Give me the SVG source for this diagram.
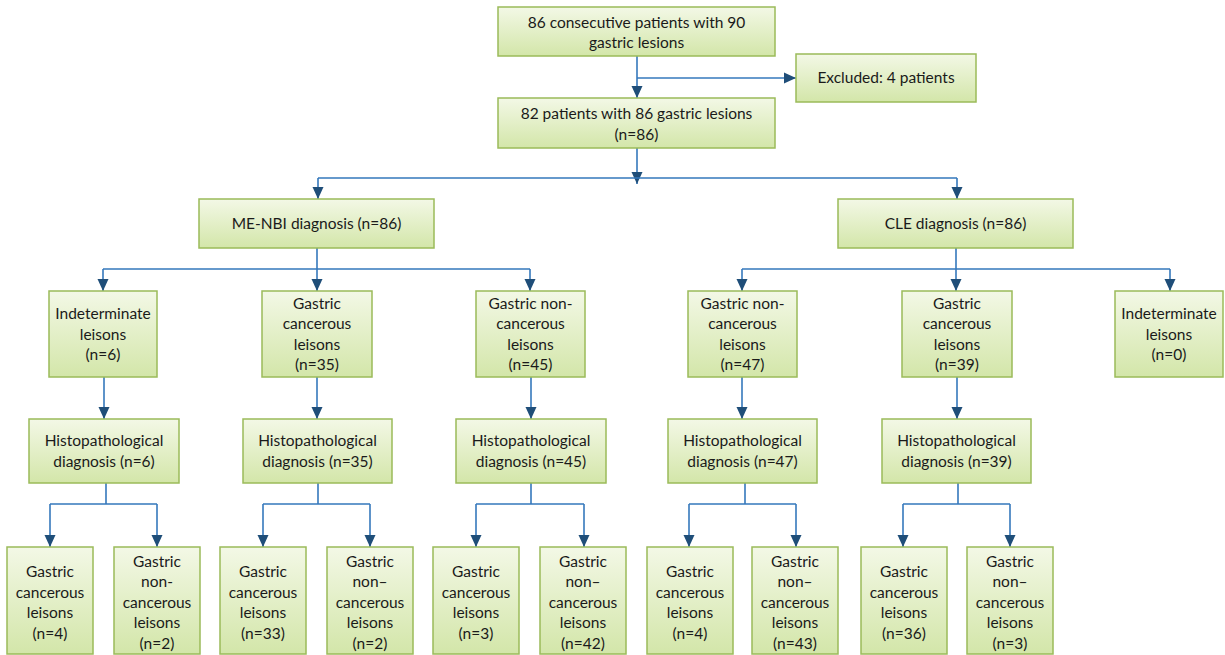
<svg xmlns="http://www.w3.org/2000/svg" width="1225" height="655" viewBox="0 0 1225 655">
<defs>
<linearGradient id="g" x1="0" y1="0" x2="0" y2="1">
<stop offset="0" stop-color="#F3F8E6"/>
<stop offset="1" stop-color="#D3E6A9"/>
</linearGradient>
<marker id="ah" markerUnits="userSpaceOnUse" markerWidth="12" markerHeight="12" viewBox="0 0 12 12" refX="12" refY="6" orient="auto">
<path d="M0,0.5 L12,6 L0,11.5 Z" fill="#1F4E79"/>
</marker>
</defs>
<style>
.b{fill:url(#g);stroke:#9BBB59;stroke-width:1.5}
.t{font-family:Lato,"Open Sans","Liberation Sans",sans-serif;font-size:15.5px;fill:#1A1A1A;text-anchor:middle}
.c{fill:none;stroke:#3578BC;stroke-width:1.6}
.a{marker-end:url(#ah)}
</style>
<rect width="1225" height="655" fill="#FFFFFF"/>
<g id="connectors">
<path class="c a" d="M637,56 V98"/>
<path class="c a" d="M637,78 H796"/>
<path class="c a" d="M637,148 V184"/>
<path class="c a" d="M318,178 H957 M318,178 V199"/>
<path class="c a" d="M957,178 V199"/>
<path class="c" d="M317,248 V269 M103,269 H530"/>
<path class="c a" d="M103,269 V291"/>
<path class="c a" d="M317,269 V291"/>
<path class="c a" d="M530,269 V291"/>
<path class="c" d="M956,248 V269 M742,269 H1170"/>
<path class="c a" d="M742,269 V291"/>
<path class="c a" d="M956,269 V291"/>
<path class="c a" d="M1170,269 V291"/>
<path class="c a" d="M104,377 V419"/>
<path class="c a" d="M317,377 V419"/>
<path class="c a" d="M531,377 V419"/>
<path class="c a" d="M742,377 V419"/>
<path class="c a" d="M957,377 V419"/>
<path class="c" d="M106,483 V504 M50,504 H157"/>
<path class="c a" d="M50,504 V547"/>
<path class="c a" d="M157,504 V547"/>
<path class="c" d="M318,483 V504 M263,504 H370"/>
<path class="c a" d="M263,504 V547"/>
<path class="c a" d="M370,504 V547"/>
<path class="c" d="M531,483 V504 M476,504 H584"/>
<path class="c a" d="M476,504 V547"/>
<path class="c a" d="M584,504 V547"/>
<path class="c" d="M745,483 V504 M689,504 H796"/>
<path class="c a" d="M689,504 V547"/>
<path class="c a" d="M796,504 V547"/>
<path class="c" d="M958,483 V504 M903,504 H1010"/>
<path class="c a" d="M903,504 V547"/>
<path class="c a" d="M1010,504 V547"/>
</g>
<g id="n_top"><rect class="b" x="498" y="7" width="277" height="49"/><text class="t" x="636.5" y="28">86 consecutive patients with 90</text><text class="t" x="636.5" y="48">gastric lesions</text></g>
<g id="n_excl"><rect class="b" x="796" y="54" width="180" height="48"/><text class="t" x="886" y="83">Excluded: 4 patients</text></g>
<g id="n_82"><rect class="b" x="498" y="98" width="277" height="50"/><text class="t" x="636.5" y="119">82 patients with 86 gastric lesions</text><text class="t" x="636.5" y="140">(n=86)</text></g>
<g id="n_menbi"><rect class="b" x="199" y="199" width="235" height="49"/><text class="t" x="316.5" y="229">ME-NBI diagnosis (n=86)</text></g>
<g id="n_cle"><rect class="b" x="838" y="199" width="235" height="49"/><text class="t" x="955.5" y="229">CLE diagnosis (n=86)</text></g>
<g id="n_m_ind"><rect class="b" x="49" y="291" width="108" height="86"/><text class="t" x="103" y="319">Indeterminate</text><text class="t" x="103" y="340">leisons</text><text class="t" x="103" y="360">(n=6)</text></g>
<g id="n_m_can"><rect class="b" x="262" y="291" width="110" height="86"/><text class="t" x="317" y="309">Gastric</text><text class="t" x="317" y="329">cancerous</text><text class="t" x="317" y="350">leisons</text><text class="t" x="317" y="370">(n=35)</text></g>
<g id="n_m_non"><rect class="b" x="476" y="291" width="109" height="86"/><text class="t" x="530.5" y="309">Gastric non-</text><text class="t" x="530.5" y="329">cancerous</text><text class="t" x="530.5" y="350">leisons</text><text class="t" x="530.5" y="370">(n=45)</text></g>
<g id="n_c_non"><rect class="b" x="688" y="291" width="109" height="86"/><text class="t" x="742.5" y="309">Gastric non-</text><text class="t" x="742.5" y="329">cancerous</text><text class="t" x="742.5" y="350">leisons</text><text class="t" x="742.5" y="370">(n=47)</text></g>
<g id="n_c_can"><rect class="b" x="902" y="291" width="110" height="86"/><text class="t" x="957" y="309">Gastric</text><text class="t" x="957" y="329">cancerous</text><text class="t" x="957" y="350">leisons</text><text class="t" x="957" y="370">(n=39)</text></g>
<g id="n_c_ind"><rect class="b" x="1115" y="291" width="108" height="86"/><text class="t" x="1169" y="319">Indeterminate</text><text class="t" x="1169" y="340">leisons</text><text class="t" x="1169" y="360">(n=0)</text></g>
<g id="n_h6"><rect class="b" x="29" y="419" width="150" height="64"/><text class="t" x="104" y="446">Histopathological</text><text class="t" x="104" y="467">diagnosis (n=6)</text></g>
<g id="n_h35"><rect class="b" x="243" y="419" width="149" height="64"/><text class="t" x="317.5" y="446">Histopathological</text><text class="t" x="317.5" y="467">diagnosis (n=35)</text></g>
<g id="n_h45"><rect class="b" x="456" y="419" width="150" height="64"/><text class="t" x="531" y="446">Histopathological</text><text class="t" x="531" y="467">diagnosis (n=45)</text></g>
<g id="n_h47"><rect class="b" x="668" y="419" width="149" height="64"/><text class="t" x="742.5" y="446">Histopathological</text><text class="t" x="742.5" y="467">diagnosis (n=47)</text></g>
<g id="n_h39"><rect class="b" x="882" y="419" width="149" height="64"/><text class="t" x="956.5" y="446">Histopathological</text><text class="t" x="956.5" y="467">diagnosis (n=39)</text></g>
<g id="n_b1"><rect class="b" x="7" y="547" width="86" height="107"/><text class="t" x="50" y="577">Gastric</text><text class="t" x="50" y="598">cancerous</text><text class="t" x="50" y="618">leisons</text><text class="t" x="50" y="639">(n=4)</text></g>
<g id="n_b2"><rect class="b" x="114" y="547" width="86" height="107"/><text class="t" x="157" y="567">Gastric</text><text class="t" x="157" y="587">non-</text><text class="t" x="157" y="608">cancerous</text><text class="t" x="157" y="628">leisons</text><text class="t" x="157" y="649">(n=2)</text></g>
<g id="n_b3"><rect class="b" x="220" y="547" width="86" height="107"/><text class="t" x="263" y="577">Gastric</text><text class="t" x="263" y="598">cancerous</text><text class="t" x="263" y="618">leisons</text><text class="t" x="263" y="639">(n=33)</text></g>
<g id="n_b4"><rect class="b" x="327" y="547" width="86" height="107"/><text class="t" x="370" y="567">Gastric</text><text class="t" x="370" y="587">non–</text><text class="t" x="370" y="608">cancerous</text><text class="t" x="370" y="628">leisons</text><text class="t" x="370" y="649">(n=2)</text></g>
<g id="n_b5"><rect class="b" x="433" y="547" width="86" height="107"/><text class="t" x="476" y="577">Gastric</text><text class="t" x="476" y="598">cancerous</text><text class="t" x="476" y="618">leisons</text><text class="t" x="476" y="639">(n=3)</text></g>
<g id="n_b6"><rect class="b" x="540" y="547" width="86" height="107"/><text class="t" x="583" y="567">Gastric</text><text class="t" x="583" y="587">non–</text><text class="t" x="583" y="608">cancerous</text><text class="t" x="583" y="628">leisons</text><text class="t" x="583" y="649">(n=42)</text></g>
<g id="n_b7"><rect class="b" x="647" y="547" width="86" height="107"/><text class="t" x="690" y="577">Gastric</text><text class="t" x="690" y="598">cancerous</text><text class="t" x="690" y="618">leisons</text><text class="t" x="690" y="639">(n=4)</text></g>
<g id="n_b8"><rect class="b" x="752" y="547" width="86" height="107"/><text class="t" x="795" y="567">Gastric</text><text class="t" x="795" y="587">non–</text><text class="t" x="795" y="608">cancerous</text><text class="t" x="795" y="628">leisons</text><text class="t" x="795" y="649">(n=43)</text></g>
<g id="n_b9"><rect class="b" x="861" y="547" width="86" height="107"/><text class="t" x="904" y="577">Gastric</text><text class="t" x="904" y="598">cancerous</text><text class="t" x="904" y="618">leisons</text><text class="t" x="904" y="639">(n=36)</text></g>
<g id="n_b10"><rect class="b" x="967" y="547" width="86" height="107"/><text class="t" x="1010" y="567">Gastric</text><text class="t" x="1010" y="587">non–</text><text class="t" x="1010" y="608">cancerous</text><text class="t" x="1010" y="628">leisons</text><text class="t" x="1010" y="649">(n=3)</text></g>
</svg>
